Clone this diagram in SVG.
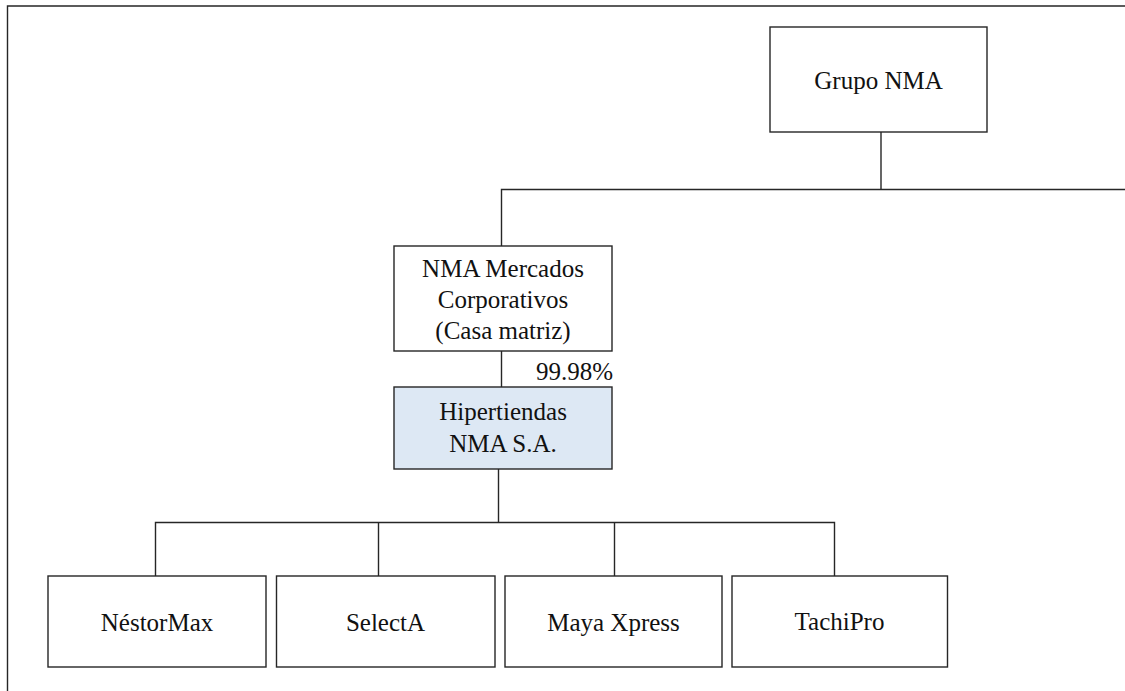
<svg xmlns="http://www.w3.org/2000/svg" width="1125" height="691" viewBox="0 0 1125 691">
<style>
.box{fill:#ffffff;stroke:#262626;stroke-width:1.4}
.hl{fill:#dde8f4;stroke:#262626;stroke-width:1.4}
.ln{fill:none;stroke:#262626;stroke-width:1.4}
text{font-family:'Liberation Serif','Times New Roman',serif;font-size:25px;fill:#111111;text-anchor:middle}
</style>
<rect width="1125" height="691" fill="#ffffff"/>
<path class="ln" d="M7.5,691 V6 H1125"/>
<g id="connectors">
<path class="ln" d="M881,132 V189.5"/>
<path class="ln" d="M501.5,246 V189.5 H1125"/>
<path class="ln" d="M501.5,351 V387"/>
<path class="ln" d="M498.5,469 V522.5"/>
<path class="ln" d="M155.5,576 V522.5 H834.5 V576"/>
<path class="ln" d="M378.5,522.5 V576"/>
<path class="ln" d="M614.5,522.5 V576"/>
<text x="536" y="380" style="text-anchor:start">99.98%</text>
</g>
<g id="grupo-nma">
<rect class="box" x="770" y="27" width="217" height="105"/>
<text x="878.5" y="89">Grupo NMA</text>
</g>
<g id="nma-mercados">
<rect class="box" x="394" y="246" width="218" height="105"/>
<text x="503" y="277">NMA Mercados</text>
<text x="503" y="308">Corporativos</text>
<text x="503" y="339">(Casa matriz)</text>
</g>
<g id="hipertiendas">
<rect class="hl" x="394" y="387" width="218" height="82"/>
<text x="503" y="420">Hipertiendas</text>
<text x="503" y="451.5">NMA S.A.</text>
</g>
<g id="nestormax">
<rect class="box" x="48" y="576" width="218" height="91"/>
<text x="157" y="631">NéstorMax</text>
</g>
<g id="selecta">
<rect class="box" x="276.5" y="576" width="218.5" height="91"/>
<text x="385.5" y="631">SelectA</text>
</g>
<g id="maya-xpress">
<rect class="box" x="505" y="576" width="217" height="91"/>
<text x="613.5" y="631">Maya Xpress</text>
</g>
<g id="tachipro">
<rect class="box" x="732" y="576" width="215.5" height="91"/>
<text x="839.5" y="630">TachiPro</text>
</g>
</svg>
